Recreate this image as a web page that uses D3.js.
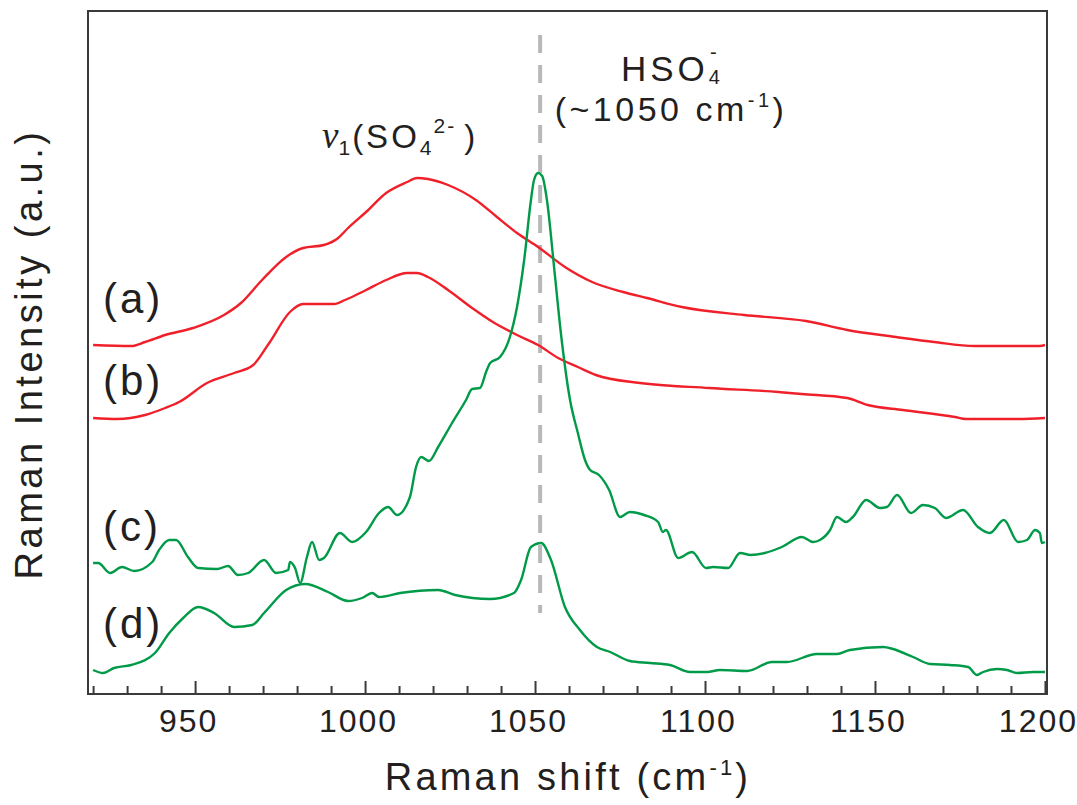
<!DOCTYPE html>
<html>
<head>
<meta charset="utf-8">
<script src="https://cdn.jsdelivr.net/npm/d3@7"></script>
<style>
  body { margin: 0; background: #fff; }
  text { font-family: "Liberation Sans", Arial, sans-serif; fill: #231f20; }
</style>
</head>
<body>
<svg id="chart" width="1077" height="805"></svg>
<script>
// wavenumber (cm-1) / intensity (a.u.) pairs
const specA = [[920.0,349],[931.2,348],[935.3,352],[941.2,359],[949.4,366],[958.5,379],[963.5,391],[969.7,414],[976.8,437],[981.8,446],[987.9,449],[992.1,456],[995.0,466],[1000.3,482],[1006.2,501],[1012.4,512],[1015.3,516],[1018.5,515],[1024.4,509],[1032.6,494],[1038.8,477],[1044.7,461],[1050.9,447],[1058.8,427],[1066.8,412],[1075.9,402],[1082.9,396],[1093.2,387],[1111.5,379],[1129.7,373],[1141.8,364],[1156.2,357],[1167.4,352],[1179.4,348],[1198.5,348],[1200.0,349]];

const specB = [[920.0,276],[927.1,275],[935.3,279],[941.2,286],[945.3,292],[953.5,311],[961.5,321],[967.1,329],[971.8,351],[977.9,382],[981.8,390],[990.9,390],[994.1,394],[1000.3,404],[1006.2,414],[1012.4,421],[1015.3,421],[1018.5,417],[1024.4,404],[1031.5,386],[1037.6,372],[1044.7,359],[1050.9,349],[1056.8,336],[1062.6,327],[1067.9,319],[1080.9,311],[1101.2,306],[1121.5,302],[1128.5,300],[1141.8,296],[1147.9,289],[1158.2,284],[1173.5,277],[1176.8,275],[1192.1,275],[1200.0,276]];

const specC = [[920.0,131],[921.5,131],[925.0,121],[928.5,127],[932.1,123],[937.4,132],[939.4,144],[942.4,154],[944.4,154],[947.9,137],[950.9,126],[956.5,125],[959.7,128],[962.6,119],[965.6,121],[970.3,134],[973.8,121],[977.4,124],[977.9,132],[979.4,126],[980.9,111],[982.9,137],[984.4,152],[986.5,134],[987.9,136],[992.6,161],[996.2,152],[1000.3,162],[1004.1,181],[1006.8,187],[1009.4,179],[1013.2,197],[1015.0,227],[1016.5,237],[1018.8,233],[1021.5,247],[1025.6,271],[1029.7,294],[1031.5,305],[1033.8,306],[1035.6,322],[1036.8,331],[1039.7,337],[1042.6,357],[1044.7,387],[1046.8,434],[1048.8,494],[1049.7,514],[1050.9,521],[1052.1,518],[1053.5,494],[1055.6,427],[1057.6,361],[1060.3,294],[1062.6,261],[1064.7,234],[1066.2,224],[1068.8,219],[1071.8,204],[1075.0,177],[1077.9,182],[1082.1,179],[1086.2,172],[1087.6,162],[1088.5,164],[1092.1,136],[1096.2,142],[1100.3,126],[1102.4,127],[1106.8,126],[1110.3,141],[1113.5,139],[1117.6,141],[1122.6,147],[1128.5,157],[1131.8,152],[1133.8,154],[1136.8,164],[1138.8,177],[1141.5,172],[1143.5,177],[1147.4,194],[1151.5,186],[1153.5,187],[1156.5,199],[1160.6,181],[1164.1,189],[1167.6,186],[1170.9,176],[1175.9,184],[1180.3,167],[1183.8,161],[1187.9,174],[1192.1,152],[1194.7,154],[1197.1,164],[1198.5,161],[1199.1,151],[1200.0,152]];

const specD = [[920.0,24],[922.9,21],[926.2,26],[931.2,29],[938.2,41],[942.4,61],[946.5,76],[950.9,87],[955.6,81],[961.5,67],[966.8,69],[970.3,81],[976.8,104],[982.4,110],[989.1,102],[995.0,93],[999.1,96],[1002.1,101],[1004.1,97],[1010.3,101],[1021.5,104],[1026.5,99],[1036.8,95],[1043.8,101],[1045.9,114],[1048.8,147],[1051.8,151],[1054.7,134],[1058.8,87],[1063.2,64],[1068.2,47],[1072.1,42],[1077.9,33],[1083.8,31],[1089.7,29],[1095.6,22],[1100.6,22],[1104.4,24],[1112.4,23],[1119.7,32],[1124.1,32],[1132.9,40],[1138.8,40],[1142.6,44],[1152.4,47],[1155.3,45],[1161.2,37],[1166.2,30],[1172.1,29],[1177.4,27],[1180.0,19],[1181.8,22],[1185.9,25],[1188.8,24],[1191.8,21],[1196.5,22],[1200.0,22]];

const seriesNames = ["(a)", "(b)", "(c)", "(d)"];
const seriesColors = ["#f0202a", "#f0202a", "#009a48", "#009a48"];
const labelLevels = [381, 299, 153, 56];   // intensity at label baseline

const majorTicks = [950, 1000, 1050, 1100, 1150, 1200];
const minorTicks = d3.range(920, 1201, 10).filter(v => v % 50 !== 0);
const xDomain = [918.5, 1200.6];
const yDomain = [0, 683];

const hso4Line = { x: 1051.5, from: 81, to: 659 };

const svg = d3.select("#chart");
const margin = { top: 11, left: 88, right: 30, bottom: 111 };
const W = 1077, H = 805;

const x = d3.scaleLinear().domain(xDomain).range([margin.left, W - margin.right]);
const y = d3.scaleLinear().domain(yDomain).range([H - margin.bottom, margin.top]);

// dashed marker at ~1050
svg.append("line")
    .attr("x1", x(hso4Line.x)).attr("x2", x(hso4Line.x))
    .attr("y1", y(hso4Line.to)).attr("y2", y(hso4Line.from))
    .attr("stroke", "#b8b8b8")
    .attr("stroke-width", 4)
    .attr("stroke-dasharray", "18,12");

const line = d3.line()
    .x(d => x(d[0]))
    .y(d => y(d[1]))
    .curve(d3.curveMonotoneX);

[specA, specB, specC, specD].forEach((s, i) => {
    svg.append("path")
        .datum(s)
        .attr("d", line)
        .attr("fill", "none")
        .attr("stroke", seriesColors[i])
        .attr("stroke-width", 2.4)
        .attr("stroke-linejoin", "round");
});

// axes: ticks point inward
const axisY = H - margin.bottom;
svg.append("g")
    .attr("transform", `translate(0,${axisY})`)
    .call(d3.axisBottom(x).tickValues(minorTicks).tickSize(-8).tickFormat(""))
    .call(g => g.select(".domain").remove())
    .call(g => g.selectAll("line").attr("stroke", "#3a3a3a").attr("stroke-width", 2));

svg.append("g")
    .attr("transform", `translate(0,${axisY})`)
    .call(d3.axisBottom(x).tickValues(majorTicks).tickSize(-13).tickPadding(0).tickFormat(d3.format("d")))
    .call(g => g.select(".domain").remove())
    .call(g => g.selectAll("line").attr("stroke", "#3a3a3a").attr("stroke-width", 2))
    .call(g => g.selectAll("text")
        .attr("x", -7)
        .attr("y", 38).attr("dy", null)
        .style("font-size", "32px")
        .style("letter-spacing", "2px")
        .style("font-family", "Liberation Sans, Arial, sans-serif")
        .attr("fill", "#111"));

// frame
svg.append("rect")
    .attr("x", margin.left).attr("y", margin.top)
    .attr("width", W - margin.left - margin.right)
    .attr("height", H - margin.top - margin.bottom)
    .attr("fill", "none")
    .attr("stroke", "#3a3a3a")
    .attr("stroke-width", 2);

// titles
const xt = svg.append("text")
    .attr("x", 568).attr("y", 790)
    .attr("text-anchor", "middle")
    .style("font-size", "38px")
    .style("letter-spacing", "3.2px");
xt.append("tspan").text("Raman shift (cm");
xt.append("tspan").attr("dy", -15).style("font-size", "22px").text("-1");
xt.append("tspan").attr("dy", 15).text(")");

svg.append("text")
    .attr("transform", "translate(42,354) rotate(-90)")
    .attr("text-anchor", "middle")
    .style("font-size", "38px")
    .style("letter-spacing", "3.5px")
    .text("Raman Intensity (a.u.)");

// series labels
seriesNames.forEach((n, i) => {
    svg.append("text")
        .attr("x", 103).attr("y", y(labelLevels[i]))
        .style("font-size", "42px")
        .style("letter-spacing", "3px")
        .text(n);
});

// v1(SO4 2-)
const nu = svg.append("text").attr("x", 322).attr("y", 148).style("font-size", "33px");
nu.append("tspan").style("font-family", "Liberation Serif, serif").style("font-style", "italic").style("font-size", "37px").text("ν");
nu.append("tspan").attr("dy", 7).style("font-size", "21px").text("1");
nu.append("tspan").attr("dy", -7).attr("dx", 2).style("letter-spacing", "3px").text("(SO");
nu.append("tspan").attr("dy", 7).style("font-size", "21px").text("4");
nu.append("tspan").attr("dy", -22).attr("dx", 2).style("font-size", "21px").style("letter-spacing", "2px").text("2-");
nu.append("tspan").attr("dy", 15).attr("dx", 8).text(")");

// HSO4- (~1050 cm-1)
const h1 = svg.append("text").attr("x", 621).attr("y", 81).style("font-size", "35px").style("letter-spacing", "4px");
h1.append("tspan").text("HSO");
h1.append("tspan").attr("dy", 3).style("font-size", "20px").text("4");
h1.append("tspan").attr("dy", -25).attr("dx", -14).style("font-size", "20px").text("-");

const h2 = svg.append("text").attr("x", 671).attr("y", 121).attr("text-anchor", "middle").style("font-size", "34px").style("letter-spacing", "3.5px");
h2.append("tspan").text("(~1050 cm");
h2.append("tspan").attr("dy", -14).style("font-size", "20px").text("-1");
h2.append("tspan").attr("dy", 14).text(")");
</script>
</body>
</html>
